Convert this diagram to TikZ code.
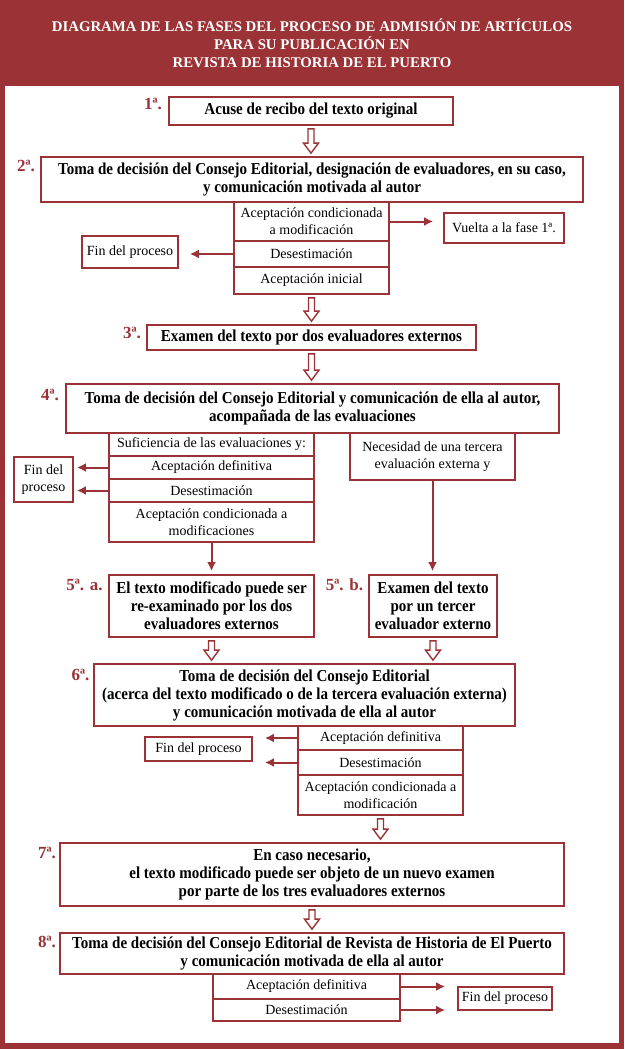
\documentclass[tikz,border=0pt]{standalone}
\usepackage{fontspec}
\setmainfont{Liberation Serif}
\newfontfamily\negrita{Liberation Serif}[BoldFeatures={FakeStretch=0.9}]
\usetikzlibrary{arrows.meta,calc}
\definecolor{rojo}{RGB}{155,51,54}

\begin{document}
\begin{tikzpicture}[x=1pt,y=-1pt,
    tam/.style 2 args={minimum width=#1pt, minimum height=#2pt},
    fase/.style={draw=rojo, line width=1.8pt, fill=white, inner sep=0pt, align=center,
      font=\negrita\bfseries\fontsize{16.7}{18}\selectfont},
    opcion/.style={draw=rojo, line width=1.8pt, fill=white, inner sep=0pt, align=center,
      font=\fontsize{14}{17}\selectfont},
    num/.style={text=rojo, font=\bfseries\fontsize{17}{17}\selectfont},
    flecha/.style={draw=rojo, line width=2pt, -{Latex[length=9pt,width=9pt]}},
    hueca/.style={draw=rojo, line width=1.4pt, fill=white,
      to path={let \p1=(\tikztostart), \p2=(\tikztotarget) in
        (\x1-3pt,\y1-3pt) -- (\x1-3pt,\y2+13pt) -- (\x1-7.5pt,\y2+13pt) -- (\x1,\y2+3pt)
        -- (\x1+7.5pt,\y2+13pt) -- (\x1+3pt,\y2+13pt) -- (\x1+3pt,\y1-3pt) -- cycle}}]
    \useasboundingbox (0,0) rectangle (624,1049);
    \fill[rojo] (0,0) rectangle (624,1049);
    \fill[white] (5,86) rectangle (619,1043);
    \node[text=white, align=center, font=\bfseries\fontsize{14.8}{18}\selectfont] (T) at (312,43)
      {DIAGRAMA DE LAS FASES DEL PROCESO DE ADMISIÓN DE ARTÍCULOS\\PARA SU PUBLICACIÓN EN\\REVISTA DE HISTORIA DE EL PUERTO};

    \node[fase, tam={284}{28}] (F1) at (311,111) {Acuse de recibo del texto original};
    \node[num] (L1) at (153,104) {1ª.};
    \node[fase, tam={542}{45}] (F2) at (312,179.5) {Toma de decisión del Consejo Editorial, designación de evaluadores, en su caso,\\y comunicación motivada al autor};
    \node[num] (L2) at (26,166) {2ª.};
    \node[opcion, tam={155}{39}] (O21) at (311.5,221.5) {Aceptación condicionada\\a modificación};
    \node[opcion, tam={155}{26}] (O22) at (311.5,254) {Desestimación};
    \node[opcion, tam={155}{27}] (O23) at (311.5,280.5) {Aceptación inicial};
    \node[opcion, tam={120}{30}] (V) at (504,228) {Vuelta a la fase 1ª.};
    \node[opcion, tam={96}{32}] (E2) at (130,252) {Fin del proceso};

    \node[fase, tam={329}{25}] (F3) at (311.5,337.5) {Examen del texto por dos evaluadores externos};
    \node[num] (L3) at (132,333) {3ª.};
    \node[fase, tam={493}{49}] (F4) at (312.5,408.5) {Toma de decisión del Consejo Editorial y comunicación de ella al autor,\\acompañada de las evaluaciones};
    \node[num] (L4) at (50,395) {4ª.};
    \node[opcion, tam={205}{23}] (O41) at (211.5,444.5) {Suficiencia de las evaluaciones y:};
    \node[opcion, tam={205}{23}] (O42) at (211.5,467.5) {Aceptación definitiva};
    \node[opcion, tam={205}{23}] (O43) at (211.5,490.5) {Desestimación};
    \node[opcion, tam={205}{40}] (O44) at (211.5,522) {Aceptación condicionada a\\modificaciones};
    \node[opcion, tam={165}{47}] (O45) at (432.5,456.5) {Necesidad de una tercera\\evaluación externa y};
    \node[opcion, tam={59}{45}] (E4) at (43.5,479.5) {Fin del\\proceso};

    \node[fase, tam={205}{62}] (F5a) at (211.5,606) {El texto modificado puede ser\\re-examinado por los dos\\evaluadores externos};
    \node[num] (L5a) at (84.5,585) {5ª. a.};
    \node[fase, tam={128}{62}] (F5b) at (433,606) {Examen del texto\\por un tercer\\evaluador externo};
    \node[num] (L5b) at (344.5,585) {5ª. b.};

    \node[fase, tam={421}{62}] (F6) at (304.5,695) {Toma de decisión del Consejo Editorial\\(acerca del texto modificado o de la tercera evaluación externa)\\y comunicación motivada de ella al autor};
    \node[num] (L6) at (80.5,675) {6ª.};
    \node[opcion, tam={165}{24}] (O61) at (380.5,738) {Aceptación definitiva};
    \node[opcion, tam={165}{25}] (O62) at (380.5,762.5) {Desestimación};
    \node[opcion, tam={165}{40}] (O63) at (380.5,795) {Aceptación condicionada a\\modificación};
    \node[opcion, tam={107}{24}] (E6) at (198.5,749) {Fin del proceso};

    \node[fase, tam={504}{63}] (F7) at (312,874.5) {En caso necesario,\\el texto modificado puede ser objeto de un nuevo examen\\por parte de los tres evaluadores externos};
    \node[num] (L7) at (47,853) {7ª.};
    \node[fase, tam={504}{41}] (F8) at (312,953.5) {Toma de decisión del Consejo Editorial de Revista de Historia de El Puerto\\y comunicación motivada de ella al autor};
    \node[num] (L8) at (47,942) {8ª.};
    \node[opcion, tam={187}{25}] (O81) at (306.5,986.5) {Aceptación definitiva};
    \node[opcion, tam={187}{22}] (O82) at (306.5,1010) {Desestimación};
    \node[opcion, tam={94}{23}] (E8) at (505,998.5) {Fin del proceso};

    \draw[hueca] (F1.south) to (F2.north);
    \draw[hueca] (O23.south) to (F3.north);
    \draw[hueca] (F3.south) to (F4.north);
    \draw[hueca] (F5a.south) to (F5a.south |- F6.north);
    \draw[hueca] (F5b.south) to (F5b.south |- F6.north);
    \draw[hueca] (O63.south) to (O63.south |- F7.north);
    \draw[hueca] (F7.south) to (F8.north);

    \draw[flecha, shorten >=10pt] (O21.east) -- (O21.east -| V.west);
    \draw[flecha, shorten >=11pt] (O22.west) -- (O22.west -| E2.east);
    \draw[flecha, shorten >=3pt] (O42.west) -- (O42.west -| E4.east);
    \draw[flecha, shorten >=3pt] (O43.west) -- (O43.west -| E4.east);
    \draw[flecha, shorten >=3pt] (O44.south) -- (F5a.north);
    \draw[flecha, shorten >=3pt] (O45.south) -- (O45.south |- F5b.north);
    \draw[flecha, shorten >=12pt] (O61.west) -- (O61.west -| E6.east);
    \draw[flecha, shorten >=12pt] (O62.west) -- (O62.west -| E6.east);
    \draw[flecha, shorten >=12pt] (O81.east) -- (O81.east -| E8.west);
    \draw[flecha, shorten >=12pt] (O82.east) -- (O82.east -| E8.west);
\end{tikzpicture}
\end{document}
